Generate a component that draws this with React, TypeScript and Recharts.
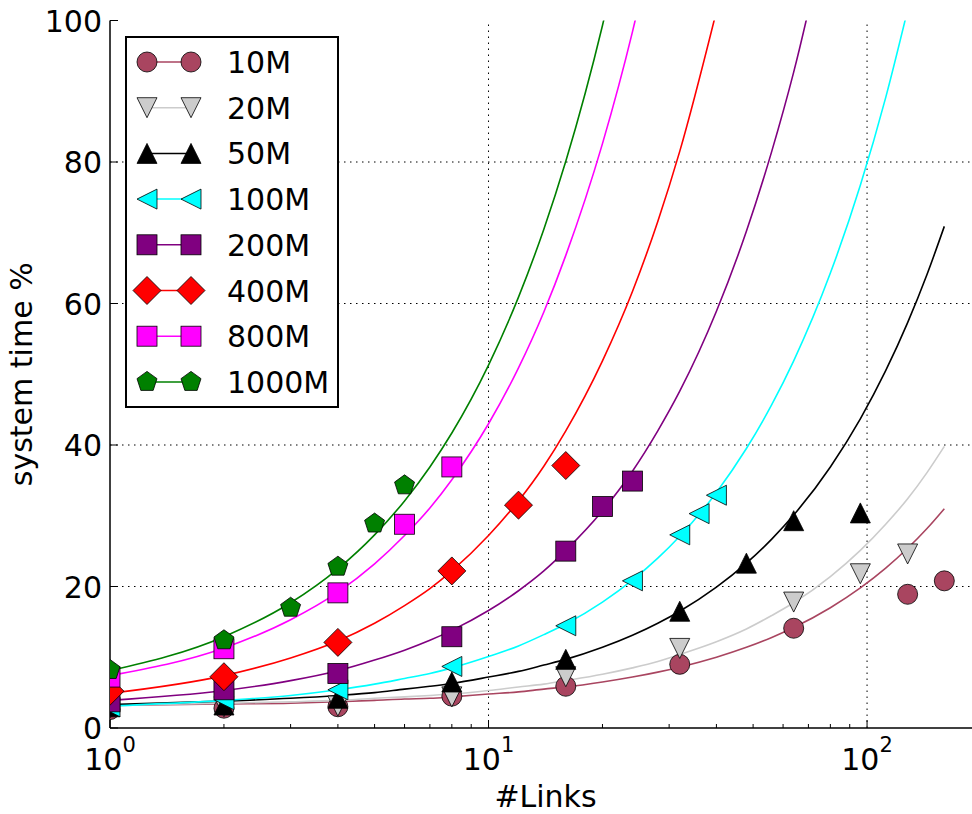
import React from "react";
import { ComposedChart, Line, Scatter, XAxis, YAxis, ReferenceLine, Legend } from "recharts";

const FONT = "DejaVu Sans, Verdana, sans-serif";

const fitX = [1, 2, 3, 4, 5, 6, 7, 8, 10, 12, 14, 16, 20, 24, 28, 32, 40, 48, 56, 64, 80, 96, 112, 128, 144, 160];

// fitted curves
const fit10M = [3.2, 3.4, 3.5, 3.7, 3.9, 4.1, 4.2, 4.4, 4.8, 5.1, 5.5, 5.8, 6.5, 7.2, 7.9, 8.6, 10.0, 11.4, 12.8, 14.2, 17.0, 19.8, 22.6, 25.4, 28.2, 31.0];
const fit20M = [3.2, 3.5, 3.7, 3.9, 4.2, 4.4, 4.6, 4.8, 5.3, 5.8, 6.2, 6.7, 7.6, 8.5, 9.4, 10.4, 12.2, 14.0, 15.9, 17.7, 21.4, 25.1, 28.8, 32.4, 36.1, 39.8];
const fit50M = [3.3, 3.8, 4.2, 4.6, 5.0, 5.5, 5.9, 6.3, 7.2, 8.0, 8.9, 9.7, 11.4, 13.1, 14.8, 16.5, 19.9, 23.3, 26.7, 30.1, 36.9, 43.7, 50.5, 57.3, 64.1, 70.9];
const fit100M = [3.1, 3.9, 4.6, 5.4, 6.2, 7.0, 7.7, 8.5, 10.1, 11.6, 13.2, 14.7, 17.8, 20.9, 24.0, 27.1, 33.3, 39.5, 45.7, 51.9, 64.3, 76.7, 89.1, 101.5];
const fit200M = [3.9, 5.3, 6.7, 8.1, 9.6, 11.0, 12.4, 13.8, 16.6, 19.4, 22.2, 25.1, 30.7, 36.3, 42.0, 47.6, 58.9, 70.2, 81.5, 92.7, 115.3];
const fit400M = [4.9, 7.4, 9.9, 12.3, 14.8, 17.3, 19.7, 22.2, 27.2, 32.1, 37.0, 42.0, 51.9, 61.7, 71.6, 81.5, 101.3];
const fit800M = [7.4, 11.3, 15.3, 19.2, 23.2, 27.2, 31.1, 35.1, 43.0, 50.9, 58.8, 66.8, 82.6, 98.4, 114.3];
const fit1000M = [8.1, 12.9, 17.7, 22.5, 27.3, 32.1, 36.9, 41.7, 51.3, 60.9, 70.5, 80.1, 99.3, 118.5];

// measured points
const x10M = [1, 2, 4, 8, 16, 32, 64, 128, 160];
const y10M = [2.6, 2.8, 3.0, 4.5, 5.9, 9.0, 14.1, 18.9, 20.8];
const x20M = [1, 2, 4, 8, 16, 32, 64, 96, 128];
const y20M = [2.8, 3.0, 3.1, 4.4, 7.25, 11.25, 17.8, 21.8, 24.6];
const x50M = [1, 2, 4, 8, 16, 32, 48, 64, 96];
const y50M = [3.0, 3.25, 4.2, 6.5, 9.7, 16.5, 23.3, 29.3, 30.4];
const x100M = [1, 2, 4, 8, 16, 24, 32, 36, 40];
const y100M = [3.0, 4.0, 5.4, 8.7, 14.45, 20.8, 27.3, 30.3, 32.9];
const x200M = [1, 2, 4, 8, 16, 20, 24];
const y200M = [3.7, 5.4, 7.7, 12.9, 25.0, 31.3, 34.9];
const x400M = [1, 2, 4, 8, 12, 16];
const y400M = [5.2, 7.25, 12.1, 22.2, 31.5, 37.1];
const x800M = [1, 2, 4, 6, 8];
const y800M = [7.2, 11.2, 19.1, 28.8, 36.9];
const x1000M = [1, 2, 3, 4, 5, 6];
const y1000M = [8.2, 12.4, 17.0, 22.8, 28.9, 34.3];

const xTicks = [1, 2, 3, 4, 5, 6, 7, 8, 9, 10, 20, 30, 40, 50, 60, 70, 80, 90, 100];
const yTicks = [0, 20, 40, 60, 80, 100];
const xGrid = [10, 100];
const yGrid = [20, 40, 60, 80];

type Kind = "circle" | "tdown" | "tup" | "tleft" | "square" | "diamond" | "pentagon";

const series: { name: string; color: string; kind: Kind; fit: number[]; xs: number[]; ys: number[] }[] = [
  { name: "10M", color: "#a94560", kind: "circle", fit: fit10M, xs: x10M, ys: y10M },
  { name: "20M", color: "#cccccc", kind: "tdown", fit: fit20M, xs: x20M, ys: y20M },
  { name: "50M", color: "#000000", kind: "tup", fit: fit50M, xs: x50M, ys: y50M },
  { name: "100M", color: "#00ffff", kind: "tleft", fit: fit100M, xs: x100M, ys: y100M },
  { name: "200M", color: "#800080", kind: "square", fit: fit200M, xs: x200M, ys: y200M },
  { name: "400M", color: "#ff0000", kind: "diamond", fit: fit400M, xs: x400M, ys: y400M },
  { name: "800M", color: "#ff00ff", kind: "square", fit: fit800M, xs: x800M, ys: y800M },
  { name: "1000M", color: "#008000", kind: "pentagon", fit: fit1000M, xs: x1000M, ys: y1000M },
];

function Marker({ kind, cx, cy, color }: { kind: Kind; cx: number; cy: number; color: string }) {
  const s = 10;
  const common = { fill: color, stroke: "#000", strokeWidth: 0.8 };
  switch (kind) {
    case "circle":
      return <circle cx={cx} cy={cy} r={s} {...common} />;
    case "square":
      return <rect x={cx - s} y={cy - s} width={2 * s} height={2 * s} {...common} />;
    case "diamond": {
      const d = 14;
      return <polygon points={`${cx},${cy - d} ${cx + d},${cy} ${cx},${cy + d} ${cx - d},${cy}`} {...common} />;
    }
    case "tup":
      return <polygon points={`${cx},${cy - s} ${cx + s},${cy + s} ${cx - s},${cy + s}`} {...common} />;
    case "tdown":
      return <polygon points={`${cx},${cy + s} ${cx + s},${cy - s} ${cx - s},${cy - s}`} {...common} />;
    case "tleft":
      return <polygon points={`${cx - s},${cy} ${cx + s},${cy - s} ${cx + s},${cy + s}`} {...common} />;
    case "pentagon": {
      const r = 10.5;
      const pts = [0, 1, 2, 3, 4]
        .map((k) => {
          const a = ((-90 + k * 72) * Math.PI) / 180;
          return `${cx + r * Math.cos(a)},${cy + r * Math.sin(a)}`;
        })
        .join(" ");
      return <polygon points={pts} {...common} />;
    }
  }
  return null;
}

const XTickBottom = (props: any) => {
  const { x, y, payload } = props;
  const v = payload.value as number;
  const exp = Math.round(Math.log10(v));
  const major = Math.abs(Math.pow(10, exp) - v) < 1e-9;
  const len = major ? 8 : 4;
  return (
    <g>
      <line x1={x} x2={x} y1={y} y2={y - len} stroke="#000" strokeWidth={1} />
      {major && (
        <text x={x} y={y + 42} textAnchor="middle" fontSize={30} fontFamily={FONT} fill="#000">
          10
          <tspan dy={-18} fontSize={21}>
            {exp}
          </tspan>
        </text>
      )}
    </g>
  );
};

const XTickTop = (props: any) => {
  const { x, y, payload } = props;
  const v = payload.value as number;
  const exp = Math.round(Math.log10(v));
  const major = Math.abs(Math.pow(10, exp) - v) < 1e-9;
  const len = major ? 8 : 4;
  return <line x1={x} x2={x} y1={y} y2={y + len} stroke="#000" strokeWidth={1} />;
};

const YTick = (props: any) => {
  const { x, y, payload } = props;
  return (
    <g>
      <line x1={x} x2={x + 8} y1={y} y2={y} stroke="#000" strokeWidth={1} />
      <text x={x - 8} y={y + 11} textAnchor="end" fontSize={30} fontFamily={FONT} fill="#000">
        {payload.value}
      </text>
    </g>
  );
};

const XLabel = (props: any) => {
  const vb = props.viewBox;
  return (
    <text x={vb.x + vb.width / 2} y={vb.y + 79} textAnchor="middle" fontSize={30} fontFamily={FONT} fill="#000">
      #Links
    </text>
  );
};

const YLabel = (props: any) => {
  const vb = props.viewBox;
  const cx = vb.x - 18;
  const cy = vb.y + vb.height / 2;
  return (
    <text x={cx} y={cy} transform={`rotate(-90 ${cx} ${cy})`} textAnchor="middle" fontSize={30} fontFamily={FONT} fill="#000">
      system time %
    </text>
  );
};

const LegendBox = () => {
  const rowH = 45.7;
  return (
    <svg width={214} height={372} style={{ display: "block" }}>
      <rect x={1} y={1} width={212} height={370} fill="#fff" stroke="#000" strokeWidth={2} />
      {series.map((s, i) => {
        const cy = 26 + i * rowH;
        return (
          <g key={s.name}>
            <line x1={22} x2={66} y1={cy} y2={cy} stroke={s.color} strokeWidth={1.5} />
            <Marker kind={s.kind} cx={22} cy={cy} color={s.color} />
            <Marker kind={s.kind} cx={66} cy={cy} color={s.color} />
            <text x={102} y={cy + 11} fontSize={30} fontFamily={FONT} fill="#000">
              {s.name}
            </text>
          </g>
        );
      })}
    </svg>
  );
};

export default function App() {
  return (
    <div style={{ position: "absolute", left: 0, top: 0, width: 972, height: 814, overflow: "hidden", background: "#fff" }}>
      <ComposedChart width={1000} height={814} margin={{ top: 20.5, right: 19, bottom: 36, left: 50 }}>
        <XAxis
          dataKey="x"
          type="number"
          scale="log"
          domain={[1, 200]}
          allowDataOverflow
          ticks={xTicks}
          interval={0}
          height={50}
          tickSize={0}
          tickMargin={0}
          tick={<XTickBottom />}
          axisLine={{ stroke: "#000", strokeWidth: 1.5 }}
          label={<XLabel />}
        />
        <XAxis
          xAxisId="top"
          orientation="top"
          type="number"
          scale="log"
          domain={[1, 200]}
          allowDataOverflow
          ticks={xTicks}
          interval={0}
          height={0}
          tickSize={0}
          tickMargin={0}
          tick={<XTickTop />}
          axisLine={{ stroke: "#000", strokeWidth: 1.5 }}
        />
        <YAxis
          type="number"
          domain={[0, 100]}
          allowDataOverflow
          ticks={yTicks}
          interval={0}
          width={60}
          tickSize={0}
          tickMargin={0}
          tick={<YTick />}
          axisLine={{ stroke: "#000", strokeWidth: 1.5 }}
          label={<YLabel />}
        />
        {xGrid.map((v) => (
          <ReferenceLine key={"gx" + v} x={v} stroke="#000" strokeWidth={1} strokeDasharray="1.5 4.5" />
        ))}
        {yGrid.map((v) => (
          <ReferenceLine key={"gy" + v} y={v} stroke="#000" strokeWidth={1} strokeDasharray="1.5 4.5" />
        ))}
        {series.map((s) => (
          <Line
            key={"l" + s.name}
            data={s.fit.map((y, i) => ({ x: fitX[i], y }))}
            dataKey="y"
            type="monotone"
            stroke={s.color}
            strokeWidth={1.6}
            dot={false}
            activeDot={false}
            isAnimationActive={false}
            legendType="none"
          />
        ))}
        {series.map((s) => (
          <Scatter
            key={"s" + s.name}
            data={s.xs.map((x, i) => ({ x, y: s.ys[i] }))}
            dataKey="y"
            isAnimationActive={false}
            shape={(p: any) => <Marker kind={s.kind} cx={p.cx} cy={p.cy} color={s.color} />}
          />
        ))}
        <Legend
          layout="vertical"
          align="center"
          verticalAlign="middle"
          content={() => <LegendBox />}
          wrapperStyle={{ position: "absolute", left: 125, top: 36, width: 214, height: 372 }}
        />
      </ComposedChart>
    </div>
  );
}
